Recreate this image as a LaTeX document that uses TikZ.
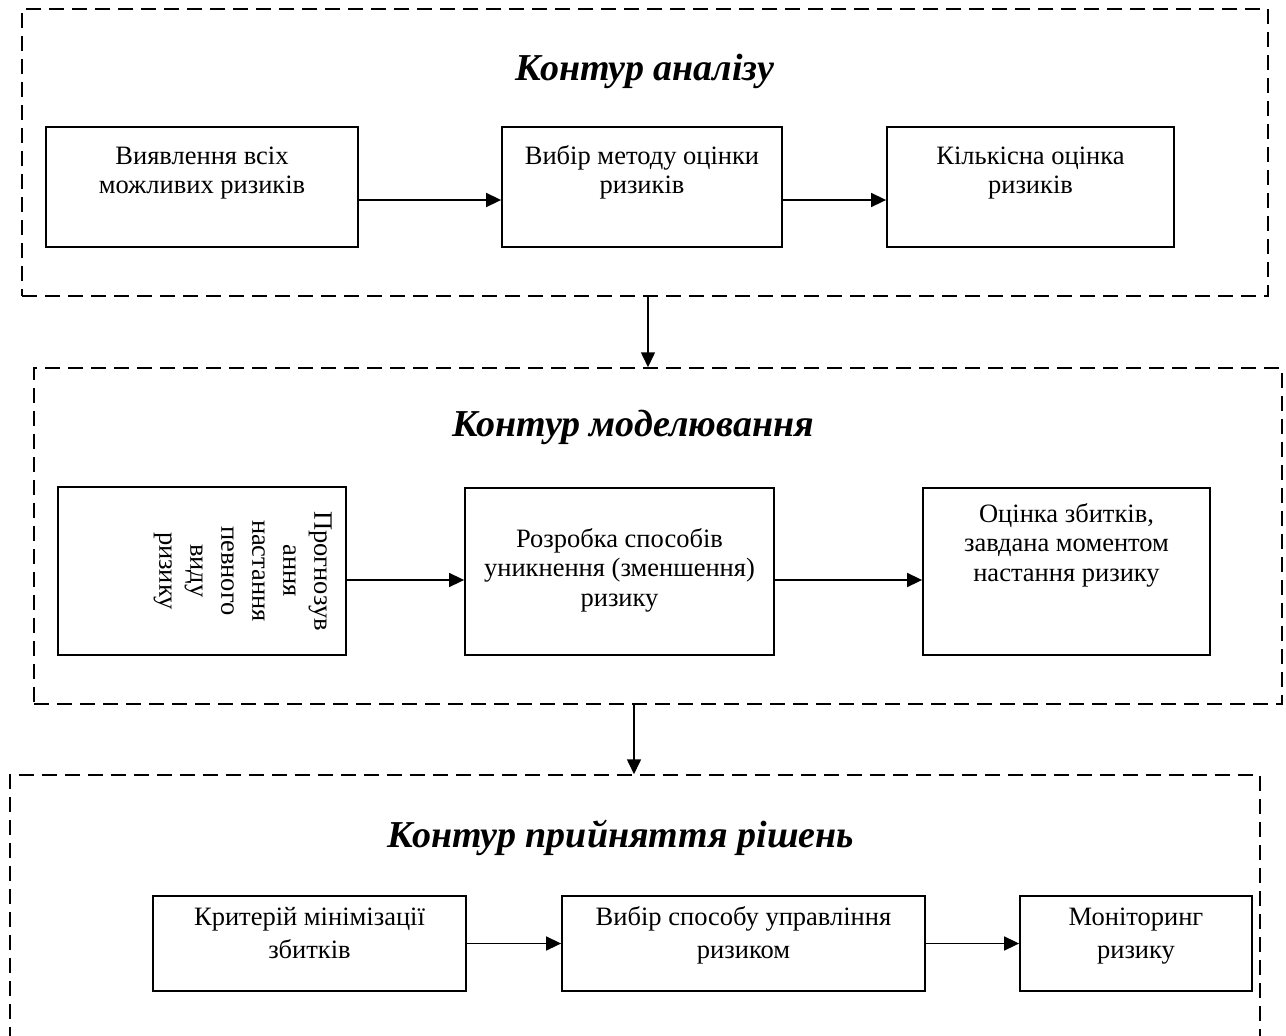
\documentclass[tikz,border=0pt]{standalone}
\usepackage{fontspec}
\setmainfont{Liberation Serif}
\usetikzlibrary{arrows.meta}
\tikzset{
  contour/.style={draw, line width=1.5pt, dash pattern=on 15pt off 8pt, inner sep=0pt},
  stepbox/.style={draw, line width=1.8pt, inner sep=0pt},
  txt/.style={inner sep=0pt, align=center, font=\fontsize{26.5}{29.5}\selectfont},
  ttl/.style={inner sep=0pt, font=\fontsize{38}{42}\selectfont\bfseries\itshape},
  arr/.style={line width=1.6pt, -{Triangle[length=15pt,width=14pt]}}
}
\begin{document}
\begin{tikzpicture}[x=1pt,y=-1pt]
\useasboundingbox (0,0) rectangle (1286,1036);
\clip (0,0) rectangle (1286,1036);
% contours
\node[contour, minimum width=1246pt, minimum height=287pt] (k1) at (645,152.5) {};
\node[contour, minimum width=1248pt, minimum height=336pt] (k2) at (658,536) {};
\node[contour, minimum width=1250pt, minimum height=330pt] (k3) at (635,940) {};
\node[ttl, anchor=base] (t1) at (645,80) {Контур аналізу};
\node[ttl, anchor=base] (t2) at (633,436) {Контур моделювання};
\node[ttl, anchor=base] (t3) at (621,847) {Контур прийняття рішень};
% row A
\node[stepbox, minimum width=312pt, minimum height=120pt] (a1) at (202,187) {};
\node[stepbox, minimum width=280pt, minimum height=120pt] (a2) at (642,187) {};
\node[stepbox, minimum width=287pt, minimum height=120pt] (a3) at (1030.5,187) {};
\node[txt, anchor=north] (a1t) at (202,143.35) {\strut Виявлення всіх\\можливих ризиків};
\node[txt, anchor=north] (a2t) at (642,143.35) {\strut Вибір методу оцінки\\ризиків};
\node[txt, anchor=north] (a3t) at (1030.5,143.35) {\strut Кількісна оцінка\\ризиків};
\draw[arr] ([yshift=-13pt]a1.east) -- ([yshift=-13pt]a1.east -| a2.west);
\draw[arr] ([yshift=-13pt]a2.east) -- ([yshift=-13pt]a2.east -| a3.west);
% row B
\node[stepbox, minimum width=288pt, minimum height=168pt] (b1) at (202,571) {};
\node[stepbox, minimum width=309pt, minimum height=167pt] (b2) at (619.5,571.5) {};
\node[stepbox, minimum width=287pt, minimum height=167pt] (b3) at (1066.5,571.5) {};
\node[txt, rotate=-90, anchor=north, font=\fontsize{26.5}{31}\selectfont] (b1t) at (332,571) {Прогнозув\\ання\\настання\\певного\\виду\\ризику};
\node[txt, anchor=north] (b2t) at (619.5,526.35) {\strut Розробка способів\\уникнення (зменшення)\\ризику};
\node[txt, anchor=north] (b3t) at (1066.5,501.35) {\strut Оцінка збитків,\\завдана моментом\\настання ризику};
\draw[arr] ([yshift=-9pt]b1.east) -- ([yshift=-9pt]b1.east -| b2.west);
\draw[arr] ([yshift=-8.5pt]b2.east) -- ([yshift=-8.5pt]b2.east -| b3.west);
% row C
\node[stepbox, minimum width=313pt, minimum height=95pt] (c1) at (309.5,943.5) {};
\node[stepbox, minimum width=363pt, minimum height=95pt] (c2) at (743.5,943.5) {};
\node[stepbox, minimum width=232pt, minimum height=95pt] (c3) at (1136,943.5) {};
\node[txt, anchor=north, font=\fontsize{26.5}{32.5}\selectfont] (c1t) at (309.5,903) {\strut Критерій мінімізації\\збитків};
\node[txt, anchor=north, font=\fontsize{26.5}{32.5}\selectfont] (c2t) at (743.5,903) {\strut Вибір способу управління\\ризиком};
\node[txt, anchor=north, font=\fontsize{26.5}{32.5}\selectfont] (c3t) at (1136,903) {\strut Моніторинг\\ризику};
\draw[arr] (c1.east) -- (c2.west);
\draw[arr] (c2.east) -- (c3.west);
% between contours
\draw[arr] ([xshift=3pt]k1.south) -- ([xshift=3pt]k1.south |- k2.north);
\draw[arr] ([xshift=-24pt]k2.south) -- ([xshift=-24pt]k2.south |- k3.north);
\end{tikzpicture}
\end{document}
